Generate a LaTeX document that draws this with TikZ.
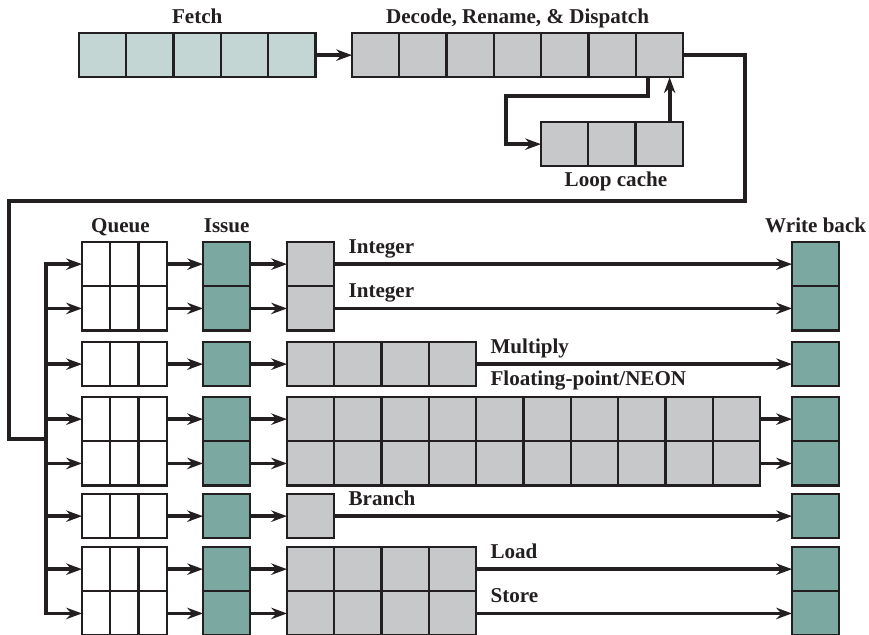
\documentclass[tikz,border=0pt]{standalone}
\usepackage{fontspec}
\setmainfont{Liberation Serif}
\usetikzlibrary{arrows.meta,calc}

\definecolor{fetchfill}{HTML}{C4D6D3}
\definecolor{stagefill}{HTML}{C7C8CA}
\definecolor{issuefill}{HTML}{7BA8A1}
\definecolor{ink}{HTML}{231F20}

\begin{document}
\begin{tikzpicture}[x=0.02cm, y=-0.02cm,
		cell/.style={draw=ink, line width=1.3pt, minimum width=0.946cm, minimum height=0.886cm, inner sep=0pt, outer sep=0pt, anchor=north west},
		qcell/.style={cell, minimum width=0.566cm, fill=white},
		flow/.style={draw=ink, line width=2.2pt, -{Stealth[length=9pt, width=6.5pt, inset=3pt]}},
		wire/.style={draw=ink, line width=2.2pt},
		lbl/.style={font=\bfseries\fontsize{12}{14}\selectfont, text=ink, inner sep=0pt, anchor=base}]
		\useasboundingbox (0,0) rectangle (869,635);

		% fetch, decode and loop cache stages
		\foreach \i in {1,...,5}
			\node [cell, fill=fetchfill] (f\i) at ({79+(\i-1)*47.3}, 33) {};
		\foreach \i in {1,...,7}
			\node [cell, fill=stagefill] (dec\i) at ({352+(\i-1)*47.3}, 33) {};
		\foreach \i in {1,...,3}
			\node [cell, fill=stagefill] (lc\i) at ({541+(\i-1)*47.3}, 122) {};

		\node [lbl] (fetchlbl) at ($(f1.north west)!0.5!(f5.north east)+(0,-9)$) {Fetch};
		\node [lbl] (declbl) at ($(dec1.north west)!0.5!(dec7.north east)+(0,-9)$) {Decode, Rename, \& Dispatch};
		\node [lbl] (lclbl) at ($(lc2.south)+(4,20)$) {Loop cache};

		\draw [flow] (f5.east) -- (dec1.west);

		% loop back through the loop cache
		\coordinate (lcout) at ($(dec7.south west)!0.25!(dec7.south east)$);
		\coordinate (lcup) at ($(lc3.north west)!0.72!(lc3.north east)$);
		\draw [flow] (lcout) -- ++(0,19) -| ($(lc1.west)+(-35,0)$) -- (lc1.west);
		\draw [flow] (lcup) -- (lcup |- dec7.south);

		% lanes: queue, issue, execute, write back
		\foreach \lane/\ty/\nx in {a/242/1, b/286.3/1, c/342/4, d/397/10, e/441.3/10, f/494/1, g/547/4, h/591.3/4} {
			\foreach \j in {1,2,3}
				\node [qcell] (q\lane\j) at ({82+(\j-1)*28.3}, \ty) {};
			\node [cell, fill=issuefill] (is\lane) at (203, \ty) {};
			\foreach \j in {1,...,\nx}
				\node [cell, fill=stagefill] (x\lane\j) at ({287+(\j-1)*47.3}, \ty) {};
			\node [cell, fill=issuefill] (wb\lane) at (792, \ty) {};
			\draw [flow] (q\lane3.east) -- (is\lane.west);
			\draw [flow] (is\lane.east) -- (x\lane1.west);
			\draw [flow] (x\lane\nx.east) -- (wb\lane.west);
		}

		\node [lbl] (qlbl) at ($(qa1.north west)!0.5!(qa3.north east)+(-4,-10)$) {Queue};
		\node [lbl] (islbl) at ($(isa.north)+(0,-10)$) {Issue};
		\node [lbl] (wblbl) at ($(wba.north)+(0,-10)$) {Write back};

		\node [lbl, anchor=base west] (inta) at ($(xa1.east)+(14,-11)$) {Integer};
		\node [lbl, anchor=base west] (intb) at ($(xb1.east)+(14,-11)$) {Integer};
		\node [lbl, anchor=base west] (mul) at ($(xc4.east)+(14,-11)$) {Multiply};
		\node [lbl, anchor=base west] (fpn) at ($(xc4.east)+(14,21)$) {Floating-point/NEON};
		\node [lbl, anchor=base west] (brn) at ($(xf1.east)+(14,-11)$) {Branch};
		\node [lbl, anchor=base west] (lod) at ($(xg4.east)+(14,-11)$) {Load};
		\node [lbl, anchor=base west] (sto) at ($(xh4.east)+(14,-11)$) {Store};

		% dispatch bus
		\coordinate (turnR) at (745,201);
		\coordinate (turnL) at (9,439);
		\path (qa1.west) ++(-36,0) coordinate (busTop);
		\path (qh1.west) ++(-36,0) coordinate (busBot);
		\draw [wire] (dec7.east) -| (turnR) -| (turnL) -- (turnL -| busTop);
		\draw [flow] (busBot) -- (busTop) -- (qa1.west);
		\draw [flow] (busTop) -- (busBot) -- (qh1.west);
		\foreach \lane in {b,...,g}
			\draw [flow] (busTop |- q\lane1.west) -- (q\lane1.west);
	\end{tikzpicture}
\end{document}
